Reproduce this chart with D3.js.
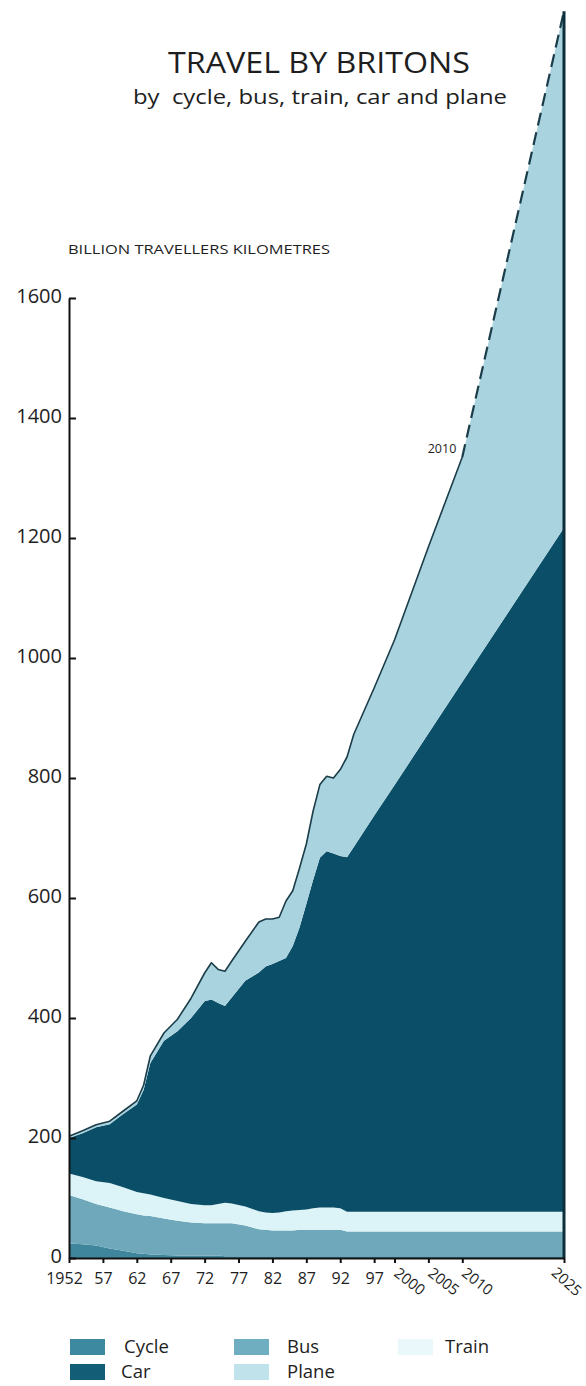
<!DOCTYPE html>
<html>
<head>
<meta charset="utf-8">
<script src="https://cdn.jsdelivr.net/npm/d3@7"></script>
<style>
  html, body { margin: 0; padding: 0; background: #ffffff; }
  svg { display: block; }
  text { font-family: "Open Sans", "Noto Sans", sans-serif; fill: #1e1e1e; }
</style>
</head>
<body>
<div id="chart"></div>
<script>
// ---------------- DATA (billion traveller kilometres) ----------------
const years = [1952,1954,1956,1958,1960,1962,1963,1964,1966,1968,1970,1972,1973,1974,1975,1976,1978,1980,1981,1982,1983,1984,1985,1986,1987,1988,1989,1990,1991,1992,1993,1994,1997,2000,2005,2010,2025];
const cycle = [24,23,21,16,12,8,7,6,5,4,4,4,4,4,3,3,3,3,3,3,3,3,3,3,3,3,3,3,3,3,3,3,3,3,3,3,3];
const bus   = [81,75,69,68,66,65,64,64,61,58,55,54,54,54,55,55,51,45,44,43,43,43,43,44,44,44,44,44,44,44,41,41,41,41,41,41,41];
const train = [36,37,38,41,40,37,37,36,34,33,31,30,30,32,34,33,32,30,29,29,30,32,33,33,34,36,37,37,37,36,33,33,33,33,33,33,33];
const car   = [59,73,90,98,122,146,172,219,262,283,310,340,343,335,328,343,376,398,410,415,419,422,441,471,509,547,583,594,590,587,591,608,660,711,797,883,1140];
const plane = [3,4,4,5,5,6,8,12,13,20,33,47,61,56,58,61,66,84,79,75,73,95,92,99,100,115,122,125,126,144,167,188,213,242,311,375,861];

const seriesNames = ["Cycle","Bus","Train","Car","Plane"];
const seriesColors = ["#3f869c","#6ea8ba","#dcf4f8","#0b4e67","#a9d3df"];
const legendColors = ["#3d8aa0","#6fadc0","#eaf8fb","#135d77","#bfe2eb"];

const xTickValues = [1952,1957,1962,1967,1972,1977,1982,1987,1992,1997,2000,2005,2010,2025];
const xTickLabels = ["1952","57","62","67","72","77","82","87","92","97","2000","2005","2010","2025"];
const yTickValues = [0,200,400,600,800,1000,1200,1400,1600];

const projectionStart = 2010;

// ---------------- LAYOUT ----------------
const W = 586, H = 1386;
const svg = d3.select("#chart").append("svg").attr("width", W).attr("height", H);

const x = d3.scaleLinear().domain([1952, 2025]).range([69, 564]);
const y = d3.scaleLinear().domain([0, 1600]).range([1258, 298]);

const table = years.map((yr, i) => ({
  year: yr, Cycle: cycle[i], Bus: bus[i], Train: train[i], Car: car[i], Plane: plane[i]
}));
const stacked = d3.stack().keys(seriesNames)(table);

const area = d3.area()
  .x(d => x(d.data.year))
  .y0(d => y(d[0]))
  .y1(d => y(d[1]));

svg.append("g").selectAll("path")
  .data(stacked)
  .join("path")
  .attr("d", area)
  .attr("fill", (d, i) => seriesColors[i]);

// outline of total
const totals = table.map(d => ({ year: d.year, total: seriesNames.reduce((s, k) => s + d[k], 0) }));
const line = d3.line().x(d => x(d.year)).y(d => y(d.total));
svg.append("path")
  .attr("d", line(totals.filter(d => d.year <= projectionStart)))
  .attr("fill", "none").attr("stroke", "#1b3d49").attr("stroke-width", 1.6)
  .attr("stroke-linejoin", "round");
svg.append("path")
  .attr("d", line(totals.filter(d => d.year >= projectionStart)))
  .attr("fill", "none").attr("stroke", "#1b3d49").attr("stroke-width", 2.2)
  .attr("stroke-dasharray", "13,7");

// right edge
const last = totals[totals.length - 1];
svg.append("path")
  .attr("d", d3.line()([[x(last.year), y(0)], [x(last.year), y(last.total)]]))
  .attr("stroke", "#0d2f3b").attr("stroke-width", 3).attr("fill", "none");

// 2010 annotation
const t2010 = totals.find(d => d.year === projectionStart);
svg.append("text")
  .attr("x", x(t2010.year) - 6).attr("y", y(t2010.total) - 4)
  .attr("text-anchor", "end").attr("font-size", 12.5).attr("fill", "#1a1a1a").text("2010");

// ---------------- AXES ----------------
const yAxis = svg.append("g")
  .attr("transform", `translate(${x(1952)},0)`)
  .call(d3.axisLeft(y).tickValues(yTickValues).tickSizeInner(-7).tickSizeOuter(0).tickPadding(7).tickFormat(d3.format("d")));
yAxis.select(".domain").attr("stroke", "#111").attr("stroke-width", 2);
yAxis.selectAll(".tick line").attr("stroke", "#111").attr("stroke-width", 2);
yAxis.selectAll(".tick text").attr("font-size", 20).attr("fill", "#1e1e1e")
  .attr("font-family", "'Open Sans', sans-serif").attr("dy", "0.22em");

const xAxis = svg.append("g")
  .attr("transform", `translate(0,${y(0)})`)
  .call(d3.axisBottom(x).tickValues(xTickValues).tickSizeInner(5).tickSizeOuter(0).tickPadding(10)
    .tickFormat((d, i) => xTickLabels[i]));
xAxis.select(".domain").attr("stroke", "#111").attr("stroke-width", 2);
xAxis.selectAll(".tick line").attr("stroke", "#111").attr("stroke-width", 2);
xAxis.selectAll(".tick text").attr("font-size", 16).attr("fill", "#1e1e1e")
  .attr("font-family", "'Open Sans', sans-serif");
xAxis.selectAll(".tick text").filter(d => d === 1952).attr("dx", -5);
xAxis.selectAll(".tick text")
  .filter(d => d >= 2000)
  .attr("text-anchor", "start")
  .attr("y", 0).attr("dy", 0)
  .attr("font-size", 15)
  .attr("transform", d => d === 2025 ? "translate(-14,16) rotate(42)" : "translate(-2,17) rotate(38)");

// ---------------- TITLES ----------------
svg.append("text").attr("x", 168).attr("y", 73)
  .attr("font-size", 29).attr("fill", "#1a1a1a")
  .attr("textLength", 302).attr("lengthAdjust", "spacingAndGlyphs")
  .text("TRAVEL BY BRITONS");
svg.append("text").attr("x", 133).attr("y", 104)
  .attr("font-size", 20).attr("fill", "#1a1a1a")
  .attr("textLength", 374).attr("lengthAdjust", "spacingAndGlyphs")
  .attr("xml:space", "preserve").style("white-space", "pre")
  .text("by  cycle, bus, train, car and plane");
svg.append("text").attr("x", 68).attr("y", 254)
  .attr("font-size", 12.5).attr("fill", "#1a1a1a")
  .attr("textLength", 262).attr("lengthAdjust", "spacingAndGlyphs")
  .text("BILLION TRAVELLERS KILOMETRES");

// ---------------- LEGEND ----------------
const legendItems = [
  { name: "Cycle", col: 0, row: 0 },
  { name: "Bus", col: 1, row: 0 },
  { name: "Train", col: 2, row: 0 },
  { name: "Car", col: 0, row: 1 },
  { name: "Plane", col: 1, row: 1 }
];
const colX = [70, 234, 398];
const textDx = [54, 53, 47];
const rowY = [1339, 1364];
const lg = svg.append("g").selectAll("g").data(legendItems).join("g")
  .attr("transform", d => `translate(${colX[d.col]},${rowY[d.row]})`);
lg.append("rect").attr("width", 35).attr("height", 16)
  .attr("fill", d => legendColors[seriesNames.indexOf(d.name)]);
lg.append("text").attr("x", d => d.name === "Car" ? 51 : textDx[d.col]).attr("y", 14)
  .attr("font-size", 18.5).attr("fill", "#1e1e1e").text(d => d.name);
</script>
</body>
</html>
